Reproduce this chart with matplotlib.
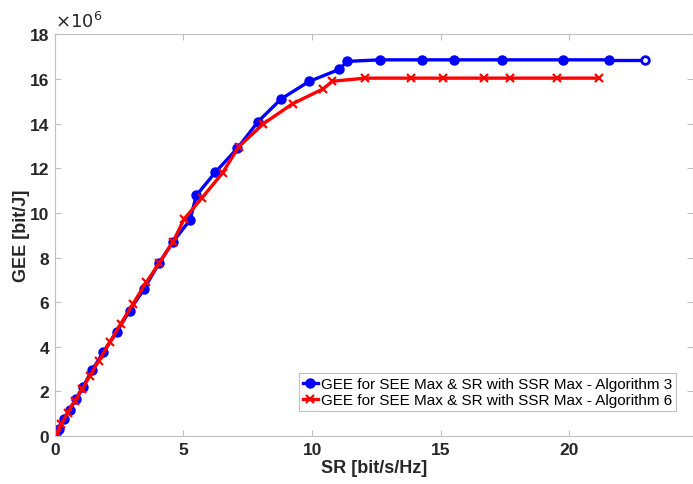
import matplotlib
matplotlib.use("Agg")
import matplotlib.pyplot as plt
import numpy as np

plt.rcParams['font.family'] = ['Liberation Sans', 'DejaVu Sans']

# GEE vs SR, Algorithm 3 (blue)
sr_alg3 = [0, 0.05, 0.17, 0.35, 0.58, 0.84, 1.1, 1.46, 1.88, 2.4, 2.91, 3.47, 4.05, 4.6,
           5.26, 5.5, 6.24, 7.1, 7.9, 8.8, 9.88, 11.05, 11.36, 12.63, 14.27, 15.52,
           17.36, 19.75, 21.53, 22.93]
gee_alg3 = [0, 0.12, 0.31, 0.76, 1.18, 1.66, 2.21, 2.96, 3.75, 4.65, 5.62, 6.59, 7.74, 8.71,
            9.69, 10.78, 11.82, 12.9, 14.09, 15.11, 15.89, 16.43, 16.79, 16.86, 16.86, 16.86,
            16.86, 16.86, 16.86, 16.86]

# GEE vs SR, Algorithm 6 (red)
sr_alg6 = [0, 0.08, 0.26, 0.5, 0.78, 1.07, 1.36, 1.72, 2.14, 2.56, 3.04, 3.56, 4.05, 4.6,
           5.03, 5.72, 6.52, 7.14, 8.1, 9.24, 10.43, 10.79, 12.07, 13.84, 15.09, 16.66,
           17.68, 19.51, 21.14]
gee_alg6 = [0, 0.15, 0.54, 1.05, 1.58, 2.1, 2.69, 3.38, 4.2, 5.02, 5.92, 6.89, 7.74, 8.71,
            9.73, 10.67, 11.79, 12.95, 13.99, 14.89, 15.56, 15.9, 16.04, 16.04, 16.04, 16.04,
            16.04, 16.04, 16.04]

label3 = "GEE for SEE Max & SR with SSR Max - Algorithm 3"
label6 = "GEE for SEE Max & SR with SSR Max - Algorithm 6"

sr3 = np.array(sr_alg3)
g3 = np.array(gee_alg3) * 1e6
sr6 = np.array(sr_alg6)
g6 = np.array(gee_alg6) * 1e6

fig = plt.figure(figsize=(6.93, 4.85), dpi=100)
ax = fig.add_axes([0.079, 0.099, 0.921, 0.828])

ax.plot(sr3[:-1], g3[:-1], "b-", marker="o", markersize=6.5, linewidth=2.4, label=label3)
ax.plot(sr3[-2:], g3[-2:], "b-", linewidth=2.4)
ax.plot(sr3[-1], g3[-1], "o", color="b", markerfacecolor="white", markersize=5.5, mew=2)
ax.plot(sr6, g6, "r-", marker="x", markersize=6, mew=1.6, linewidth=2.4, label=label6)

ax.set_xlim(0, 24.8)
ax.set_ylim(0, 18e6)
ax.set_xticks([0, 5, 10, 15, 20])
ax.set_yticks(np.arange(0, 19e6, 2e6))
ax.set_yticklabels([str(v) for v in range(0, 19, 2)])

for s in ax.spines.values():
    s.set_color("#c0c0c0")
    s.set_linewidth(0.8)
ax.tick_params(direction="in", length=4, color="#c0c0c0", top=True, right=True,
               labelsize=12.5, pad=4)
for lbl in ax.get_xticklabels() + ax.get_yticklabels():
    lbl.set_fontweight("bold")
    lbl.set_color("#262626")

ax.set_xlabel("SR [bit/s/Hz]", fontsize=13, fontweight="bold", color="#262626", labelpad=2)
ax.set_ylabel("GEE [bit/J]", fontsize=13, fontweight="bold", color="#262626", labelpad=0)
ax.text(0.0, 1.008, r"$\times10^6$", transform=ax.transAxes, fontsize=13,
        color="#262626", ha="left", va="bottom")

leg = ax.legend(loc="lower right", fontsize=11, handlelength=1.0, handletextpad=0.2,
                borderpad=0.25, labelspacing=0.15, fancybox=False, framealpha=1,
                edgecolor="#c0c0c0", bbox_to_anchor=(0.9755, 0.1505),
                bbox_transform=fig.transFigure, borderaxespad=0)
leg.get_frame().set_linewidth(0.8)

fig.savefig("out.png", dpi=100)
